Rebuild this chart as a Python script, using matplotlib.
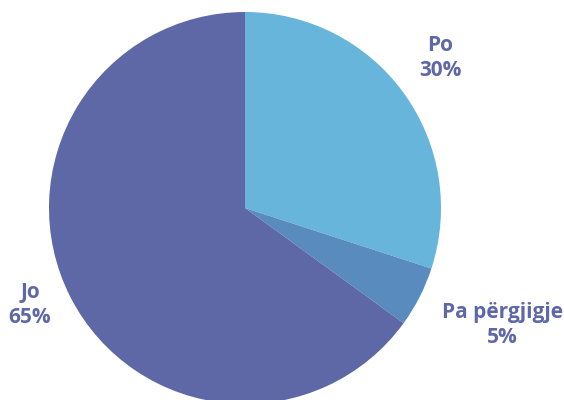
import matplotlib
matplotlib.use("Agg")
import matplotlib.pyplot as plt

labels = ["Po", "Pa përgjigje", "Jo"]
values = [30, 5, 65]
colors = ["#67B5DB", "#5A8BBE", "#5E68A6"]
label_pos = [(440, 58), (502, 325), (30, 305)]

fig = plt.figure(figsize=(5.64, 4.0), dpi=100)
ax = fig.add_axes([0, 0, 1, 1])

# pie drawn in y-down coords: counterclock=True appears clockwise on screen
ax.pie(values, colors=colors, startangle=-90, counterclock=True,
       center=(245, 208), radius=196, frame=True,
       wedgeprops=dict(linewidth=0))
ax.set_xlim(0, 564)
ax.set_ylim(400, 0)
ax.set_aspect("equal")
ax.axis("off")

for lab, v, (x, y) in zip(labels, values, label_pos):
    ax.text(x, y, f"{lab}\n{v}%", ha="center", va="center", fontsize=15,
            fontweight="bold", color="#5E68A6", family="Open Sans",
            linespacing=1.25)

fig.savefig("out.png", dpi=100)
